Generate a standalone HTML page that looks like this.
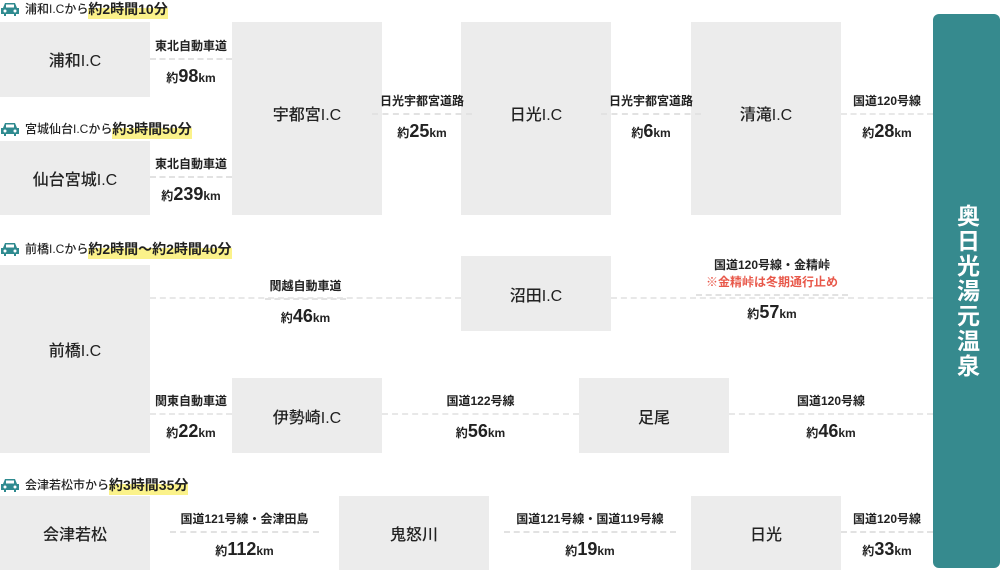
<!DOCTYPE html>
<html><head><meta charset="utf-8"><style>
body{margin:0;width:1000px;height:570px;background:#fff;position:relative;overflow:hidden;font-family:"Liberation Sans","Noto Sans CJK JP",sans-serif;color:#222}
.b{position:absolute;background:#ececec;display:flex;align-items:center;justify-content:center;font-size:16px;font-weight:500;box-sizing:border-box}
.h{position:absolute;font-size:12px;font-weight:500;white-space:nowrap;display:flex;align-items:center}
.h svg{margin-right:5px}
.hl{background:linear-gradient(transparent 45%,#fbf28a 45%);font-size:14px;font-weight:700}
.c{position:absolute;text-align:center;font-size:12px;font-weight:700;white-space:nowrap}
.c .d{height:0;border-top:2px dashed #e2e2e2;margin:4px 0 6px}
.c .k{font-size:12px}.c .k b{font-size:18px}
.red{color:#e8584a}
.side{position:absolute;left:933px;top:14px;width:67px;height:554px;background:#368a8e;border-radius:6px;color:#fff;font-size:23px;font-weight:700;writing-mode:vertical-rl;display:flex;align-items:center;justify-content:center;letter-spacing:2px}
.ln{position:absolute;height:0;border-top:2px dashed #e8e8e8}
</style></head><body>
<svg width="0" height="0" style="position:absolute"><symbol id="car" viewBox="0 0 20 14"><path d="M3 6 L5 1 H15 L17 6 H19 V12 H16 V14 H14 V12 H6 V14 H4 V12 H1 V6Z" fill="#2f8a8f"/><rect x="6" y="2.5" width="8" height="3" fill="#fff"/><circle cx="5" cy="9" r="1.5" fill="#fff"/><circle cx="15" cy="9" r="1.5" fill="#fff"/></symbol></svg>

<div class="h" style="left:0;top:0;height:17px"><svg width="20" height="14"><use href="#car"/></svg>浦和I.Cから <span class="hl">約2時間10分</span></div>
<div class="h" style="left:0;top:120px;height:17px"><svg width="20" height="14"><use href="#car"/></svg>宮城仙台I.Cから<span class="hl">約3時間50分</span></div>
<div class="h" style="left:0;top:240px;height:17px"><svg width="20" height="14"><use href="#car"/></svg>前橋I.Cから <span class="hl">約2時間〜約2時間40分</span></div>
<div class="h" style="left:0;top:476px;height:17px"><svg width="20" height="14"><use href="#car"/></svg>会津若松市から <span class="hl">約3時間35分</span></div>

<div class="ln" style="left:150px;top:297px;width:311px"></div>
<div class="ln" style="left:611px;top:297px;width:322px"></div>
<div class="ln" style="left:150px;top:413px;width:82px"></div>
<div class="ln" style="left:382px;top:413px;width:197px"></div>
<div class="ln" style="left:729px;top:413px;width:204px"></div>
<div class="ln" style="left:841px;top:113px;width:92px"></div>

<div class="b" style="left:0;top:22px;width:150px;height:75px;padding-bottom:2px">浦和I.C</div>
<div class="b" style="left:0;top:141px;width:150px;height:74px">仙台宮城I.C</div>
<div class="b" style="left:232px;top:22px;width:150px;height:193px;padding-bottom:12px">宇都宮I.C</div>
<div class="b" style="left:461px;top:22px;width:150px;height:193px;padding-bottom:12px">日光I.C</div>
<div class="b" style="left:691px;top:22px;width:150px;height:193px;padding-bottom:12px">清滝I.C</div>
<div class="b" style="left:0;top:265px;width:150px;height:188px;padding-bottom:20px">前橋I.C</div>
<div class="b" style="left:461px;top:256px;width:150px;height:75px">沼田I.C</div>
<div class="b" style="left:232px;top:378px;width:150px;height:75px">伊勢崎I.C</div>
<div class="b" style="left:579px;top:378px;width:150px;height:75px">足尾</div>
<div class="b" style="left:0;top:496px;width:150px;height:74px">会津若松</div>
<div class="b" style="left:339px;top:496px;width:150px;height:74px">鬼怒川</div>
<div class="b" style="left:691px;top:496px;width:150px;height:74px">日光</div>

<div class="c" style="left:150px;top:37px;width:82px">東北自動車道<div class="d"></div><div class="k">約<b>98</b>km</div></div>
<div class="c" style="left:150px;top:155px;width:82px">東北自動車道<div class="d"></div><div class="k">約<b>239</b>km</div></div>
<div class="c" style="left:372px;top:92px;width:100px">日光宇都宮道路<div class="d"></div><div class="k">約<b>25</b>km</div></div>
<div class="c" style="left:601px;top:92px;width:100px">日光宇都宮道路<div class="d"></div><div class="k">約<b>6</b>km</div></div>
<div class="c" style="left:841px;top:92px;width:92px">国道120号線<div class="d" style="border-color:transparent"></div><div class="k">約<b>28</b>km</div></div>
<div class="c" style="left:150px;top:277px;width:311px">関越自動車道<div class="d" style="margin:4px 115px 6px"></div><div class="k">約<b>46</b>km</div></div>
<div class="c" style="left:611px;top:256px;width:322px">国道120号線・金精峠<br><span class="red">※金精峠は冬期通行止め</span><div class="d" style="margin:4px 85px 6px"></div><div class="k">約<b>57</b>km</div></div>
<div class="c" style="left:150px;top:392px;width:82px">関東自動車道<div class="d" style="border-color:transparent"></div><div class="k">約<b>22</b>km</div></div>
<div class="c" style="left:382px;top:392px;width:197px">国道122号線<div class="d" style="border-color:transparent"></div><div class="k">約<b>56</b>km</div></div>
<div class="c" style="left:729px;top:392px;width:204px">国道120号線<div class="d" style="border-color:transparent"></div><div class="k">約<b>46</b>km</div></div>
<div class="c" style="left:150px;top:510px;width:189px">国道121号線・会津田島<div class="d" style="margin:4px 20px 6px"></div><div class="k">約<b>112</b>km</div></div>
<div class="c" style="left:489px;top:510px;width:202px">国道121号線・国道119号線<div class="d" style="margin:4px 15px 6px"></div><div class="k">約<b>19</b>km</div></div>
<div class="c" style="left:841px;top:510px;width:92px">国道120号線<div class="d"></div><div class="k">約<b>33</b>km</div></div>

<div class="side">奥日光湯元温泉</div>
</body></html>
